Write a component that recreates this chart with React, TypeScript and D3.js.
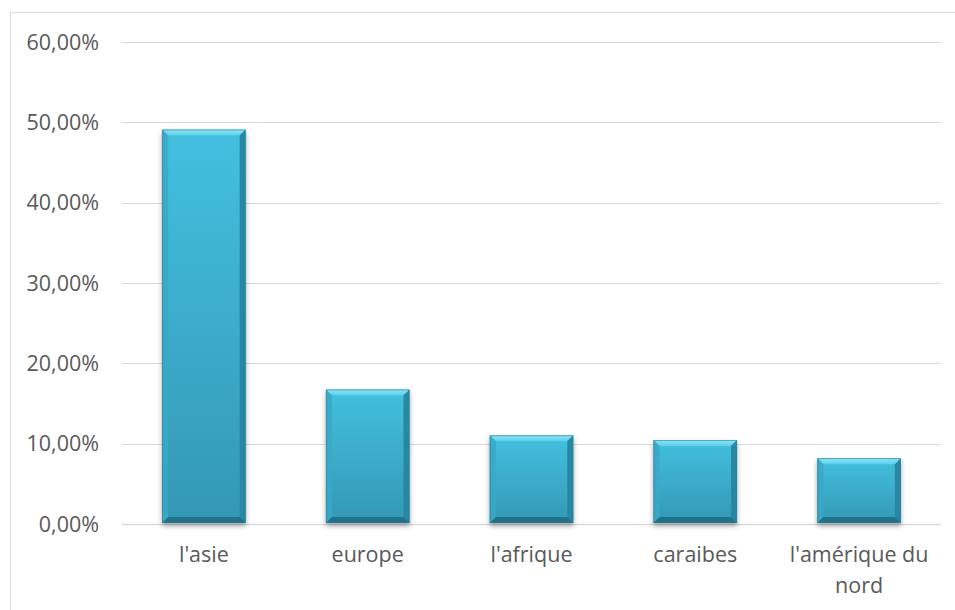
import React from "react";
import * as d3 from "d3";

const categories: string[][] = [
  ["l'asie"],
  ["europe"],
  ["l'afrique"],
  ["caraibes"],
  ["l'amérique du", "nord"],
];
const shares: number[] = [0.491, 0.1675, 0.1105, 0.1045, 0.082];
const yTicks: number[] = [0, 0.1, 0.2, 0.3, 0.4, 0.5, 0.6];

const W = 955;
const H = 610;
const plot = { left: 122, right: 941, top: 42, bottom: 524 };
const FONT = "'Open Sans', 'Liberation Sans', sans-serif";
const TEXT = "#595959";
const GRID = "#d9d9d9";
const FS = 21.5;

const fmt = (v: number) => (v * 100).toFixed(2).replace(".", ",") + "%";

export default function App() {
  const idx = categories.map((_, i) => i);
  const x = d3
    .scaleBand<number>()
    .domain(idx)
    .range([plot.left, plot.right])
    .paddingInner(0.49)
    .paddingOuter(0.245);
  const y = d3.scaleLinear().domain([0, 0.6]).range([plot.bottom, plot.top]);
  const b = 6;

  return (
    <svg
      width={W}
      height={H}
      style={{ position: "absolute", left: 0, top: 0, background: "#fff" }}
    >
      <defs>
        <linearGradient id="face" x1="0" y1="0" x2="0" y2="1">
          <stop offset="0" stopColor="#43c0e0" />
          <stop offset="1" stopColor="#3398b4" />
        </linearGradient>
        <linearGradient id="topBevel" x1="0" y1="0" x2="0" y2="1">
          <stop offset="0" stopColor="#92e6f8" />
          <stop offset="1" stopColor="#5acfea" />
        </linearGradient>
        <filter id="shadow" x="-20%" y="-5%" width="140%" height="115%">
          <feGaussianBlur in="SourceAlpha" stdDeviation="2.5" />
          <feOffset dx="0" dy="3" result="blur" />
          <feComponentTransfer>
            <feFuncA type="linear" slope="0.35" />
          </feComponentTransfer>
          <feMerge>
            <feMergeNode />
            <feMergeNode in="SourceGraphic" />
          </feMerge>
        </filter>
      </defs>

      {/* chart frame */}
      <line x1={10.5} y1={12.5} x2={W} y2={12.5} stroke={GRID} />
      <line x1={10.5} y1={12.5} x2={10.5} y2={H} stroke={GRID} />

      {/* gridlines and y labels */}
      {yTicks.map((t) => (
        <g key={t}>
          <line
            x1={plot.left}
            x2={plot.right}
            y1={Math.round(y(t)) + 0.5}
            y2={Math.round(y(t)) + 0.5}
            stroke={GRID}
            strokeWidth={t === 0 ? 1.5 : 1}
          />
          <text
            x={99}
            y={y(t) + 7.5}
            textAnchor="end"
            fontFamily={FONT}
            fontSize={FS}
            fill={TEXT}
          >
            {fmt(t)}
          </text>
        </g>
      ))}

      {/* bars */}
      {shares.map((v, i) => {
        const x0 = x(i)!;
        const x1 = x0 + x.bandwidth();
        const y0 = y(v);
        const y1 = y(0) - 1;
        return (
          <g key={i} filter="url(#shadow)">
            <rect x={x0} y={y0} width={x1 - x0} height={y1 - y0} fill="url(#face)" />
            <polygon
              points={`${x0},${y0} ${x1},${y0} ${x1 - b},${y0 + b} ${x0 + b},${y0 + b}`}
              fill="url(#topBevel)"
            />
            <polygon
              points={`${x0},${y0} ${x0 + b},${y0 + b} ${x0 + b},${y1 - b} ${x0},${y1}`}
              fill="#3aa9c8"
              opacity={0.9}
            />
            <polygon
              points={`${x1},${y0} ${x1 - b},${y0 + b} ${x1 - b},${y1 - b} ${x1},${y1}`}
              fill="#2b87a1"
            />
            <polygon
              points={`${x0},${y1} ${x0 + b},${y1 - b} ${x1 - b},${y1 - b} ${x1},${y1}`}
              fill="#23718a"
            />
            <rect
              x={x0 + 0.5}
              y={y0 + 0.5}
              width={x1 - x0 - 1}
              height={y1 - y0 - 1}
              fill="none"
              stroke="#2a7f97"
              strokeOpacity={0.6}
            />
          </g>
        );
      })}

      {/* x labels */}
      {categories.map((lines, i) => (
        <text
          key={i}
          x={x(i)! + x.bandwidth() / 2}
          y={562}
          textAnchor="middle"
          fontFamily={FONT}
          fontSize={FS}
          fill={TEXT}
        >
          {lines.map((l, j) => (
            <tspan key={j} x={x(i)! + x.bandwidth() / 2} dy={j === 0 ? 0 : 31}>
              {l}
            </tspan>
          ))}
        </text>
      ))}
    </svg>
  );
}
